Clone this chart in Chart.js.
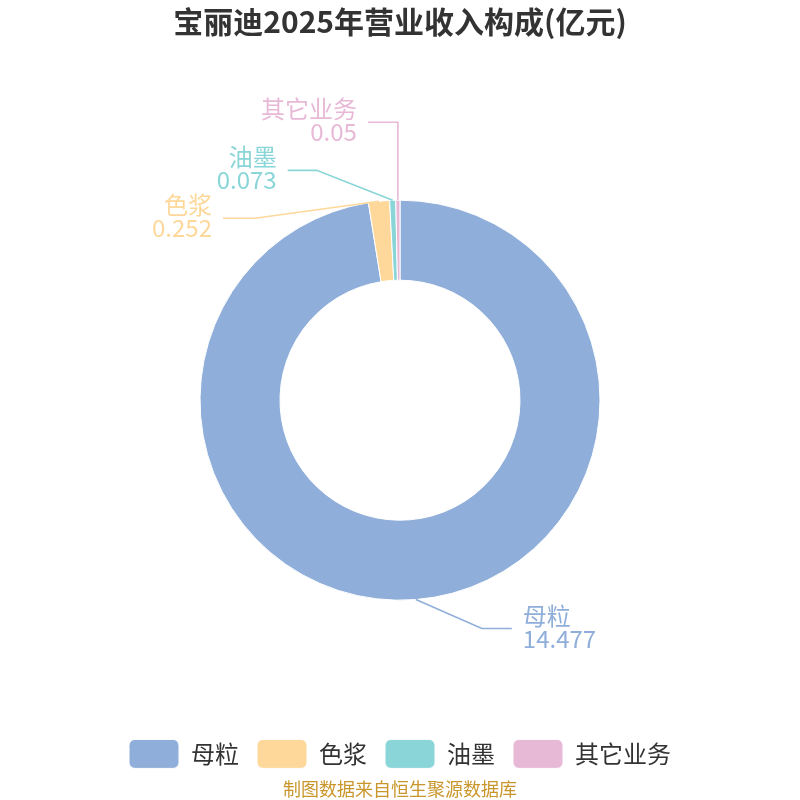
<!DOCTYPE html>
<html>
<head>
<meta charset="utf-8">
<script src="https://cdn.jsdelivr.net/npm/chart.js@4/dist/chart.umd.min.js"></script>
<style>
    html, body { margin: 0; padding: 0; background: #fff; }
    #wrap { width: 800px; height: 800px; }
</style>
</head>
<body>
<div id="wrap"><canvas id="revChart" width="800" height="800"></canvas></div>
<script>
// Data
const categories = ['母粒', '色浆', '油墨', '其它业务'];
const revenue = [14.477, 0.252, 0.073, 0.05];
const valueLabels = ['14.477', '0.252', '0.073', '0.05'];

const sliceColors = ['#8faed9', '#fdd89a', '#89d5d7', '#e8b9d7'];
const fontFamily = "'Noto Sans CJK SC', 'Noto Sans', sans-serif";

// leader line layout: elbow offset from the slice edge, then a short horizontal run
const leader = [
    { dx: 66, dy: 29, run: 30, side: 1 },
    { dx: -124, dy: 17, run: 32, side: -1 },
    { dx: -76, dy: -30, run: 29, side: -1 },
    { dx: 0, dy: -78, run: 30, side: -1 }
];

const leaderLabels = {
    id: 'leaderLabels',
    afterDatasetsDraw(chart) {
        const ctx = chart.ctx;
        const arcs = chart.getDatasetMeta(0).data;
        ctx.save();
        arcs.forEach((arc, i) => {
            const p = arc.getProps(['x', 'y', 'startAngle', 'endAngle', 'outerRadius'], true);
            const mid = (p.startAngle + p.endAngle) / 2;
            const ax = p.x + Math.cos(mid) * p.outerRadius;
            const ay = p.y + Math.sin(mid) * p.outerRadius;
            const l = leader[i];
            const ex = ax + l.dx;
            const ey = ay + l.dy;
            const tx = ex + l.side * l.run;

            ctx.strokeStyle = sliceColors[i];
            ctx.lineWidth = 1.6;
            ctx.beginPath();
            ctx.moveTo(ax, ay);
            ctx.lineTo(ex, ey);
            ctx.lineTo(tx, ey);
            ctx.stroke();

            ctx.fillStyle = sliceColors[i];
            ctx.font = '24px ' + fontFamily;
            ctx.textAlign = l.side > 0 ? 'left' : 'right';
            ctx.textBaseline = 'middle';
            const textX = tx + l.side * 11;
            ctx.fillText(categories[i], textX, ey - 13);
            ctx.fillText(valueLabels[i], textX, ey + 10);
        });
        ctx.restore();
    }
};

new Chart(document.getElementById('revChart'), {
    type: 'doughnut',
    data: {
        labels: categories,
        datasets: [{
            data: revenue,
            backgroundColor: sliceColors,
            borderColor: '#ffffff',
            borderWidth: 1,
            radius: 200,
            cutout: '60%'
        }]
    },
    options: {
        responsive: false,
        animation: false,
        layout: { padding: 0 },
        plugins: {
            title: {
                display: true,
                text: '宝丽迪2025年营业收入构成(亿元)',
                color: '#333333',
                font: { size: 30, weight: 'bold', family: fontFamily },
                padding: { top: 4, bottom: 39 }
            },
            legend: {
                position: 'bottom',
                labels: {
                    color: '#333333',
                    font: { size: 24, family: fontFamily },
                    boxWidth: 50,
                    boxHeight: 29,
                    padding: 18,
                    useBorderRadius: true,
                    borderRadius: 6
                }
            },
            subtitle: {
                display: true,
                position: 'bottom',
                text: '制图数据来自恒生聚源数据库',
                color: '#c9962b',
                font: { size: 18, family: fontFamily },
                padding: { top: 0, bottom: 0 }
            },
            tooltip: { enabled: false }
        }
    },
    plugins: [leaderLabels]
});
</script>
</body>
</html>
